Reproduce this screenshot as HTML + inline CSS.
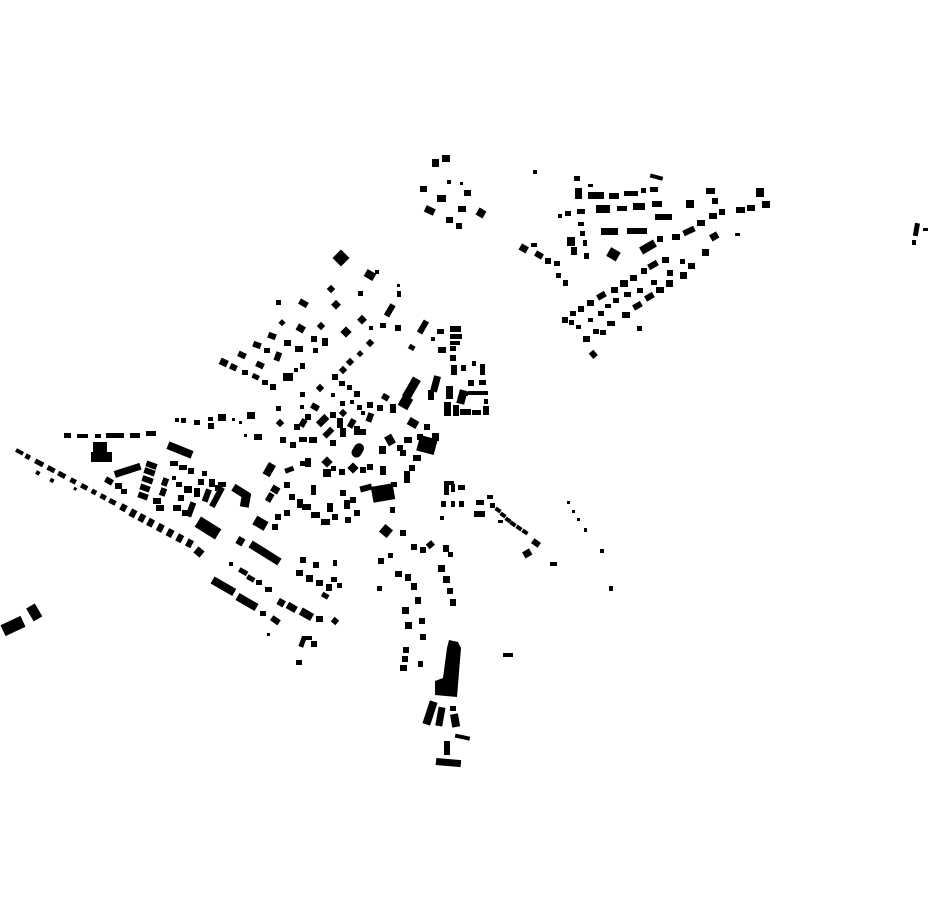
<!DOCTYPE html>
<html><head><meta charset="utf-8"><style>html,body{margin:0;padding:0;background:#fff}svg{display:block}</style></head><body>
<svg width="930" height="924" viewBox="0 0 930 924" xmlns="http://www.w3.org/2000/svg">
<g fill="#000">
<!-- north cluster -->
<rect x="432" y="159" width="7" height="8"/><rect x="442" y="155" width="8" height="7"/><rect x="420" y="186" width="7" height="6"/><rect x="437" y="195" width="9" height="7"/><rect x="425" y="207" width="10" height="7" transform="rotate(25 430 210)"/><rect x="446" y="217" width="7" height="6"/><rect x="456" y="223" width="6" height="6"/><rect x="458" y="206" width="8" height="6"/><rect x="464" y="190" width="7" height="6"/><rect x="477" y="209" width="8" height="8" transform="rotate(30 481 213)"/><rect x="447" y="180" width="4" height="4"/><rect x="460" y="182" width="3" height="3"/>
<!-- NE cluster -->
<rect x="533" y="170" width="4" height="4"/>
<rect x="574" y="176" width="6" height="5"/><rect x="588" y="184" width="5" height="3"/><rect x="575" y="188" width="7" height="11"/><rect x="588" y="192" width="16" height="7"/><rect x="609" y="193" width="10" height="6"/><rect x="624" y="191" width="14" height="5"/><rect x="641" y="188" width="5" height="5"/><rect x="650" y="187" width="8" height="5"/><rect x="650" y="175" width="13" height="4" transform="rotate(15 656 177)"/>
<rect x="558" y="214" width="4" height="4"/><rect x="565" y="211" width="6" height="5"/><rect x="577" y="209" width="8" height="5"/><rect x="596" y="205" width="14" height="8"/><rect x="617" y="206" width="10" height="5"/><rect x="633" y="203" width="12" height="7"/><rect x="652" y="201" width="10" height="6"/><rect x="655" y="214" width="17" height="6"/>
<rect x="578" y="222" width="6" height="4"/><rect x="580" y="231" width="5" height="5"/><rect x="601" y="228" width="17" height="7"/><rect x="627" y="228" width="20" height="6"/><rect x="567" y="237" width="8" height="9"/><rect x="571" y="247" width="6" height="8"/><rect x="583" y="240" width="4" height="6"/><rect x="584" y="253" width="5" height="6"/>
<rect x="520" y="245" width="8" height="7" transform="rotate(30 524 248)"/><rect x="531" y="243" width="6" height="4"/><rect x="535" y="252" width="8" height="6" transform="rotate(30 539 255)"/><rect x="545" y="258" width="6" height="6"/><rect x="554" y="261" width="6" height="5"/><rect x="556" y="273" width="5" height="5"/><rect x="563" y="280" width="5" height="6"/>
<rect x="608" y="249" width="11" height="10" transform="rotate(30 613 254)"/><rect x="640" y="243" width="16" height="8" transform="rotate(-30 648 247)"/><rect x="657" y="236" width="6" height="6"/><rect x="672" y="234" width="8" height="6"/><rect x="683" y="228" width="12" height="6" transform="rotate(-25 689 231)"/><rect x="697" y="220" width="8" height="6"/><rect x="709" y="213" width="8" height="6"/><rect x="719" y="209" width="6" height="6"/><rect x="736" y="207" width="9" height="6"/><rect x="747" y="205" width="8" height="6"/><rect x="762" y="201" width="8" height="7"/><rect x="756" y="188" width="8" height="9"/><rect x="706" y="188" width="9" height="6"/><rect x="686" y="200" width="8" height="8"/><rect x="712" y="198" width="6" height="6"/><rect x="710" y="233" width="8" height="7" transform="rotate(-30 714 236)"/><rect x="735" y="233" width="5" height="3"/>
<rect x="702" y="249" width="7" height="7"/><rect x="688" y="263" width="7" height="6"/><rect x="680" y="272" width="7" height="7"/><rect x="666" y="280" width="7" height="7"/><rect x="656" y="287" width="8" height="6"/><rect x="645" y="294" width="9" height="6" transform="rotate(-30 649 297)"/><rect x="633" y="303" width="9" height="6" transform="rotate(-30 637 306)"/><rect x="622" y="312" width="8" height="6"/><rect x="607" y="321" width="8" height="5"/><rect x="593" y="329" width="6" height="5"/><rect x="583" y="336" width="7" height="6"/><rect x="590" y="351" width="6" height="7" transform="rotate(-40 593 354)"/><rect x="637" y="326" width="5" height="5"/>
<rect x="562" y="317" width="6" height="6"/><rect x="570" y="311" width="6" height="5"/><rect x="578" y="306" width="6" height="6"/><rect x="587" y="300" width="7" height="6"/><rect x="597" y="293" width="9" height="6" transform="rotate(-30 601 296)"/><rect x="611" y="287" width="7" height="6"/><rect x="620" y="280" width="8" height="7"/><rect x="630" y="275" width="7" height="6"/><rect x="641" y="268" width="6" height="6"/><rect x="648" y="262" width="10" height="6" transform="rotate(-30 653 265)"/><rect x="662" y="257" width="7" height="6"/><rect x="569" y="320" width="5" height="5"/><rect x="576" y="325" width="5" height="4"/><rect x="598" y="311" width="6" height="5"/><rect x="605" y="304" width="6" height="4"/><rect x="613" y="298" width="6" height="5"/><rect x="624" y="292" width="7" height="5"/><rect x="637" y="288" width="6" height="5"/><rect x="651" y="280" width="6" height="5"/><rect x="667" y="270" width="6" height="6"/><rect x="680" y="259" width="5" height="5"/><rect x="600" y="330" width="6" height="5"/><rect x="588" y="318" width="5" height="4"/>
<rect x="914" y="223" width="5" height="13" transform="rotate(10 916 229)"/><rect x="912" y="240" width="4" height="5"/><rect x="923" y="228" width="5" height="3"/>
<!-- main town north -->
<rect x="335" y="252" width="12" height="12" transform="rotate(45 341 258)"/><rect x="365" y="271" width="10" height="8" transform="rotate(30 370 275)"/><rect x="375" y="270" width="4" height="4"/><rect x="328" y="286" width="6" height="6" transform="rotate(45 331 289)"/><rect x="358" y="291" width="5" height="5"/><rect x="397" y="284" width="3" height="3"/><rect x="397" y="291" width="4" height="6"/>
<rect x="276" y="300" width="5" height="5"/><rect x="299" y="300" width="9" height="6" transform="rotate(30 303 303)"/><rect x="333" y="301" width="7" height="7" transform="rotate(45 336 304)"/><rect x="359" y="316" width="7" height="7" transform="rotate(45 362 319)"/><rect x="387" y="304" width="6" height="13" transform="rotate(30 390 310)"/><rect x="380" y="323" width="6" height="5"/><rect x="395" y="325" width="6" height="6"/><rect x="369" y="326" width="4" height="4"/>
<rect x="420" y="320" width="6" height="14" transform="rotate(30 423 327)"/><rect x="437" y="329" width="7" height="5"/><rect x="450" y="326" width="11" height="6"/><rect x="450" y="334" width="12" height="5"/><rect x="450" y="341" width="10" height="4"/><rect x="431" y="337" width="4" height="4"/><rect x="409" y="345" width="6" height="5" transform="rotate(30 412 347)"/><rect x="438" y="347" width="8" height="6"/><rect x="450" y="346" width="6" height="5"/><rect x="450" y="355" width="6" height="6"/>
<rect x="280" y="320" width="5" height="5" transform="rotate(45 282 322)"/><rect x="297" y="325" width="8" height="7" transform="rotate(30 301 328)"/><rect x="318" y="323" width="6" height="6" transform="rotate(45 321 326)"/><rect x="342" y="328" width="8" height="8" transform="rotate(45 346 332)"/><rect x="311" y="336" width="6" height="6"/><rect x="322" y="338" width="6" height="8"/><rect x="313" y="348" width="5" height="5"/><rect x="367" y="340" width="6" height="6" transform="rotate(45 370 343)"/><rect x="358" y="351" width="5" height="5" transform="rotate(45 360 353)"/>
<rect x="268" y="333" width="8" height="6" transform="rotate(20 272 336)"/><rect x="284" y="340" width="7" height="6"/><rect x="295" y="346" width="8" height="6"/><rect x="275" y="352" width="6" height="9" transform="rotate(20 278 356)"/><rect x="253" y="342" width="8" height="6" transform="rotate(20 257 345)"/><rect x="264" y="348" width="6" height="5"/><rect x="238" y="352" width="8" height="6" transform="rotate(25 242 355)"/><rect x="256" y="362" width="8" height="6" transform="rotate(25 260 365)"/><rect x="220" y="359" width="8" height="7" transform="rotate(25 224 362)"/><rect x="230" y="364" width="7" height="6" transform="rotate(25 233 367)"/><rect x="242" y="370" width="6" height="5"/><rect x="252" y="374" width="7" height="5" transform="rotate(25 255 377)"/><rect x="262" y="380" width="6" height="5"/><rect x="270" y="384" width="6" height="6"/><rect x="283" y="373" width="10" height="8"/><rect x="294" y="368" width="4" height="4"/><rect x="300" y="363" width="5" height="6"/><rect x="347" y="359" width="6" height="6" transform="rotate(45 350 362)"/><rect x="340" y="367" width="6" height="6" transform="rotate(45 343 370)"/><rect x="332" y="374" width="6" height="6"/>
<rect x="300" y="392" width="5" height="5"/><rect x="317" y="385" width="6" height="6" transform="rotate(45 320 388)"/><rect x="339" y="381" width="6" height="5"/><rect x="347" y="385" width="5" height="5"/><rect x="354" y="391" width="6" height="6"/><rect x="331" y="393" width="4" height="4"/>
<rect x="407" y="377" width="9" height="22" transform="rotate(30 411 388)"/><rect x="400" y="396" width="11" height="12" transform="rotate(30 405 402)"/><rect x="432" y="376" width="7" height="16" transform="rotate(15 436 384)"/><rect x="428" y="390" width="6" height="10"/><rect x="446" y="386" width="7" height="13"/><rect x="451" y="365" width="6" height="10"/><rect x="461" y="365" width="5" height="6"/><rect x="472" y="361" width="4" height="5"/><rect x="480" y="364" width="5" height="11"/><rect x="468" y="380" width="6" height="6"/><rect x="479" y="380" width="7" height="5"/><rect x="458" y="390" width="8" height="14" transform="rotate(15 462 397)"/><rect x="464" y="392" width="4" height="4"/><rect x="468" y="391" width="10" height="4"/><rect x="478" y="391" width="10" height="4"/><rect x="444" y="402" width="7" height="14"/><rect x="453" y="405" width="6" height="11"/><rect x="460" y="409" width="11" height="6"/><rect x="472" y="410" width="9" height="5"/><rect x="483" y="406" width="6" height="9"/><rect x="484" y="399" width="4" height="5"/>
<rect x="382" y="394" width="7" height="6" transform="rotate(30 385 397)"/><rect x="390" y="404" width="6" height="9"/><rect x="377" y="405" width="6" height="6"/><rect x="367" y="402" width="6" height="6"/><rect x="357" y="405" width="5" height="5"/><rect x="350" y="400" width="4" height="4"/><rect x="340" y="401" width="5" height="5"/><rect x="367" y="413" width="6" height="9" transform="rotate(20 370 417)"/><rect x="361" y="411" width="4" height="4"/><rect x="349" y="419" width="6" height="9" transform="rotate(30 352 423)"/><rect x="340" y="410" width="6" height="6" transform="rotate(45 343 413)"/><rect x="330" y="412" width="6" height="6"/><rect x="319" y="415" width="7" height="12" transform="rotate(45 323 421)"/><rect x="311" y="404" width="8" height="6" transform="rotate(30 315 407)"/><rect x="305" y="414" width="6" height="6"/><rect x="300" y="419" width="6" height="8" transform="rotate(30 303 423)"/><rect x="294" y="424" width="6" height="6"/><rect x="277" y="420" width="6" height="6" transform="rotate(45 280 423)"/><rect x="276" y="406" width="5" height="5"/><rect x="300" y="405" width="4" height="4"/>
<rect x="299" y="437" width="8" height="5"/><rect x="309" y="437" width="8" height="6"/><rect x="290" y="442" width="6" height="6"/><rect x="280" y="437" width="6" height="6"/><rect x="323" y="430" width="11" height="6" transform="rotate(-45 328 433)"/><rect x="337" y="418" width="6" height="10"/><rect x="340" y="428" width="6" height="9"/><rect x="330" y="440" width="6" height="6"/><rect x="354" y="426" width="6" height="9"/><rect x="360" y="429" width="6" height="6"/>
<rect x="353" y="443" width="10" height="15" rx="5" transform="rotate(30 358 450)"/><rect x="379" y="446" width="7" height="8"/><rect x="386" y="435" width="8" height="10" transform="rotate(-30 390 440)"/><rect x="397" y="445" width="6" height="6"/><rect x="404" y="437" width="8" height="6"/><rect x="408" y="419" width="10" height="8" transform="rotate(30 413 423)"/><rect x="424" y="424" width="6" height="6"/><rect x="432" y="433" width="7" height="8"/><rect x="418" y="437" width="18" height="16" transform="rotate(15 427 445)"/><rect x="417" y="434" width="6" height="6"/><rect x="400" y="450" width="6" height="6"/><rect x="413" y="455" width="8" height="6"/><rect x="409" y="465" width="6" height="6"/><rect x="404" y="471" width="6" height="12"/>
<!-- west row -->
<rect x="175" y="418" width="4" height="4"/><rect x="181" y="418" width="5" height="5"/><rect x="194" y="420" width="6" height="5"/><rect x="208" y="423" width="6" height="6"/><rect x="208" y="417" width="5" height="4"/><rect x="218" y="414" width="8" height="7"/><rect x="232" y="418" width="3" height="3"/><rect x="239" y="421" width="3" height="3"/><rect x="247" y="412" width="8" height="7"/><rect x="244" y="434" width="3" height="3"/><rect x="254" y="434" width="8" height="6"/>
<rect x="167" y="446" width="26" height="8" transform="rotate(22 180 450)"/><rect x="265" y="463" width="8" height="13" transform="rotate(30 269 470)"/><rect x="285" y="467" width="9" height="5" transform="rotate(-20 290 470)"/><rect x="300" y="461" width="5" height="5"/><rect x="305" y="458" width="6" height="9"/><rect x="323" y="458" width="8" height="8" transform="rotate(45 327 462)"/><rect x="323" y="469" width="8" height="8"/><rect x="331" y="466" width="5" height="5"/><rect x="339" y="469" width="6" height="6"/><rect x="349" y="464" width="8" height="8" transform="rotate(45 353 468)"/><rect x="360" y="467" width="6" height="6"/><rect x="367" y="464" width="6" height="6"/><rect x="380" y="466" width="6" height="9"/>
<rect x="372" y="485" width="22" height="16" transform="rotate(-10 383 493)"/><rect x="360" y="485" width="12" height="6" transform="rotate(-15 366 488)"/><rect x="391" y="482" width="6" height="5"/><rect x="390" y="507" width="5" height="6"/><rect x="311" y="485" width="5" height="10"/><rect x="284" y="482" width="6" height="6"/><rect x="271" y="486" width="8" height="7" transform="rotate(30 275 490)"/><rect x="267" y="493" width="6" height="9" transform="rotate(30 270 497)"/><rect x="289" y="494" width="6" height="6"/><rect x="297" y="499" width="6" height="9"/><rect x="302" y="504" width="9" height="6"/><rect x="311" y="512" width="9" height="6"/><rect x="327" y="503" width="6" height="9"/><rect x="332" y="514" width="6" height="6"/><rect x="340" y="490" width="6" height="6"/><rect x="344" y="500" width="6" height="9"/><rect x="350" y="497" width="6" height="6"/><rect x="354" y="510" width="6" height="6"/><rect x="345" y="517" width="6" height="6"/><rect x="321" y="519" width="9" height="6"/><rect x="284" y="510" width="6" height="6"/><rect x="275" y="514" width="6" height="6"/><rect x="254" y="518" width="13" height="10" transform="rotate(30 260 523)"/><rect x="272" y="524" width="6" height="6"/>
<rect x="444" y="482" width="5" height="13"/><rect x="444" y="481" width="10" height="4"/><rect x="451" y="484" width="4" height="8"/><rect x="458" y="485" width="7" height="5"/><rect x="441" y="501" width="5" height="6"/><rect x="451" y="501" width="4" height="6"/><rect x="459" y="501" width="5" height="6"/><rect x="440" y="516" width="4" height="4"/><rect x="476" y="500" width="8" height="5"/><rect x="474" y="511" width="11" height="6"/><rect x="487" y="495" width="6" height="4"/><rect x="490" y="503" width="5" height="5"/>
<rect x="495" y="508" width="6" height="4" transform="rotate(35 498 510)"/><rect x="500" y="513" width="6" height="4" transform="rotate(35 503 515)"/><rect x="505" y="518" width="6" height="4" transform="rotate(35 508 520)"/><rect x="510" y="522" width="6" height="4" transform="rotate(35 513 524)"/><rect x="516" y="526" width="6" height="4" transform="rotate(35 519 528)"/><rect x="522" y="530" width="6" height="4" transform="rotate(35 525 532)"/><rect x="532" y="540" width="8" height="6" transform="rotate(35 536 543)"/><rect x="523" y="550" width="8" height="7" transform="rotate(-30 527 553)"/><rect x="550" y="562" width="7" height="4"/><rect x="498" y="520" width="5" height="3"/>
<rect x="567" y="501" width="3" height="3"/><rect x="572" y="510" width="3" height="3"/><rect x="577" y="518" width="3" height="3"/><rect x="584" y="528" width="3" height="4"/><rect x="600" y="549" width="4" height="4"/><rect x="609" y="586" width="4" height="5"/>
<!-- far west -->
<rect x="64" y="433" width="7" height="5"/><rect x="77" y="434" width="11" height="4"/><rect x="95" y="434" width="6" height="4"/><rect x="106" y="433" width="18" height="5"/><rect x="130" y="433" width="10" height="5"/><rect x="146" y="431" width="10" height="5"/>
<rect x="93" y="442" width="14" height="11"/><rect x="91" y="452" width="21" height="10"/>
<g transform="rotate(28 16 450)">
<rect x="16" y="448" width="8" height="4"/><rect x="27" y="448" width="5" height="5"/><rect x="38" y="448" width="9" height="5"/><rect x="52" y="448" width="8" height="5"/><rect x="64" y="448" width="8" height="5"/><rect x="78" y="448" width="6" height="5"/><rect x="90" y="448" width="7" height="5"/><rect x="102" y="448" width="5" height="5"/><rect x="112" y="448" width="6" height="5"/><rect x="122" y="448" width="7" height="5"/><rect x="135" y="447" width="6" height="7"/><rect x="146" y="447" width="6" height="8"/><rect x="156" y="447" width="6" height="8"/><rect x="166" y="447" width="6" height="8"/><rect x="177" y="447" width="6" height="8"/><rect x="188" y="447" width="6" height="8"/><rect x="199" y="447" width="6" height="8"/><rect x="210" y="447" width="6" height="8"/><rect x="44" y="458" width="4" height="4"/><rect x="60" y="458" width="4" height="4"/><rect x="85" y="455" width="3" height="3"/>
</g>
<rect x="114" y="467" width="27" height="7" transform="rotate(-18 127 470)"/><rect x="105" y="478" width="8" height="6" transform="rotate(30 109 481)"/><rect x="115" y="483" width="7" height="6"/><rect x="121" y="489" width="6" height="5"/>
<rect x="146" y="462" width="11" height="6" transform="rotate(20 151 465)"/><rect x="144" y="469" width="11" height="6" transform="rotate(20 150 472)"/><rect x="142" y="477" width="11" height="6" transform="rotate(20 148 480)"/><rect x="140" y="485" width="10" height="6" transform="rotate(20 145 488)"/><rect x="138" y="493" width="10" height="6" transform="rotate(20 143 496)"/><rect x="153" y="498" width="8" height="6"/><rect x="162" y="478" width="6" height="8" transform="rotate(20 165 482)"/><rect x="160" y="488" width="6" height="8" transform="rotate(20 163 492)"/><rect x="156" y="505" width="8" height="6"/>
<rect x="170" y="461" width="8" height="5"/><rect x="179" y="465" width="8" height="5"/><rect x="188" y="468" width="6" height="6"/><rect x="172" y="476" width="4" height="4"/><rect x="176" y="482" width="6" height="5"/><rect x="184" y="486" width="8" height="7"/><rect x="178" y="495" width="6" height="6"/><rect x="173" y="505" width="8" height="6"/><rect x="182" y="510" width="8" height="6"/><rect x="188" y="502" width="6" height="15" transform="rotate(20 191 509)"/><rect x="194" y="488" width="6" height="9"/><rect x="198" y="479" width="6" height="6"/><rect x="202" y="471" width="5" height="5"/><rect x="209" y="479" width="6" height="8"/><rect x="204" y="489" width="6" height="13" transform="rotate(20 207 495)"/><rect x="215" y="485" width="5" height="6"/><rect x="218" y="482" width="8" height="5"/>
<rect x="214" y="486" width="6" height="22" transform="rotate(28 217 497)"/><rect x="232" y="488" width="18" height="8" transform="rotate(32 241 492)"/><rect x="241" y="493" width="9" height="14" transform="rotate(10 245 500)"/>
<rect x="196" y="522" width="24" height="12" transform="rotate(32 208 528)"/><rect x="195" y="548" width="8" height="8" transform="rotate(40 199 552)"/>
<rect x="237" y="537" width="7" height="8" transform="rotate(30 240 541)"/><rect x="248" y="549" width="34" height="8" transform="rotate(32 265 553)"/><rect x="229" y="562" width="4" height="4"/>
<rect x="239" y="569" width="9" height="5" transform="rotate(30 243 571)"/><rect x="247" y="576" width="8" height="5" transform="rotate(30 251 578)"/><rect x="256" y="580" width="6" height="5"/><rect x="265" y="587" width="7" height="5"/>
<rect x="211" y="582" width="25" height="8" transform="rotate(30 223 586)"/><rect x="236" y="598" width="22" height="8" transform="rotate(30 247 602)"/><rect x="260" y="611" width="6" height="5"/><rect x="271" y="617" width="9" height="6" transform="rotate(35 275 620)"/>
<rect x="278" y="599" width="7" height="7" transform="rotate(30 281 602)"/><rect x="287" y="604" width="10" height="7" transform="rotate(30 292 607)"/><rect x="300" y="610" width="13" height="8" transform="rotate(30 306 614)"/><rect x="316" y="616" width="7" height="6"/><rect x="332" y="618" width="6" height="6" transform="rotate(40 335 621)"/><rect x="267" y="633" width="3" height="3"/>
<rect x="300" y="637" width="5" height="10" transform="rotate(20 302 642)"/><rect x="302" y="636" width="10" height="4"/><rect x="311" y="641" width="6" height="6"/><rect x="296" y="660" width="6" height="5"/>
<rect x="300" y="557" width="6" height="6"/><rect x="313" y="562" width="6" height="6"/><rect x="296" y="570" width="7" height="6"/><rect x="306" y="575" width="7" height="7"/><rect x="316" y="580" width="7" height="6"/><rect x="326" y="584" width="6" height="7"/><rect x="322" y="593" width="7" height="5" transform="rotate(30 325 595)"/><rect x="331" y="577" width="6" height="5"/><rect x="333" y="560" width="4" height="6"/><rect x="337" y="583" width="5" height="5"/>
<rect x="381" y="526" width="10" height="10" transform="rotate(40 386 531)"/><rect x="400" y="530" width="6" height="6"/><rect x="411" y="544" width="6" height="6"/><rect x="420" y="547" width="6" height="6"/><rect x="378" y="558" width="6" height="6"/><rect x="388" y="553" width="5" height="5"/><rect x="395" y="571" width="7" height="6"/><rect x="405" y="574" width="6" height="7"/><rect x="411" y="583" width="6" height="7"/><rect x="415" y="597" width="6" height="7"/><rect x="402" y="607" width="7" height="7"/><rect x="405" y="622" width="7" height="7"/><rect x="419" y="618" width="6" height="6"/><rect x="420" y="634" width="6" height="6"/><rect x="427" y="542" width="7" height="6" transform="rotate(-40 430 545)"/><rect x="443" y="545" width="6" height="7"/><rect x="448" y="552" width="5" height="5"/><rect x="438" y="565" width="7" height="7"/><rect x="443" y="576" width="7" height="7"/><rect x="447" y="588" width="6" height="6"/><rect x="450" y="599" width="6" height="7"/><rect x="403" y="647" width="6" height="6"/><rect x="402" y="656" width="6" height="6"/><rect x="400" y="665" width="7" height="6"/><rect x="418" y="661" width="5" height="6"/><rect x="377" y="586" width="5" height="5"/>
<polygon points="449,640 458,642 461,648 457,697 435,695 435,681 443,678 447,648"/>
<rect x="426" y="701" width="8" height="24" transform="rotate(18 430 713)"/><rect x="437" y="707" width="7" height="19" transform="rotate(10 440 716)"/><rect x="451" y="714" width="8" height="13" transform="rotate(-10 455 720)"/><rect x="450" y="706" width="6" height="5"/><rect x="455" y="735" width="15" height="4" transform="rotate(12 462 737)"/><rect x="444" y="741" width="6" height="14"/><rect x="436" y="759" width="25" height="7" transform="rotate(5 448 762)"/><rect x="503" y="653" width="10" height="4"/>
<rect x="2" y="620" width="22" height="12" transform="rotate(-25 13 626)"/><rect x="29" y="605" width="10" height="15" transform="rotate(-30 34 612)"/>
</g>
</svg>
</body></html>
